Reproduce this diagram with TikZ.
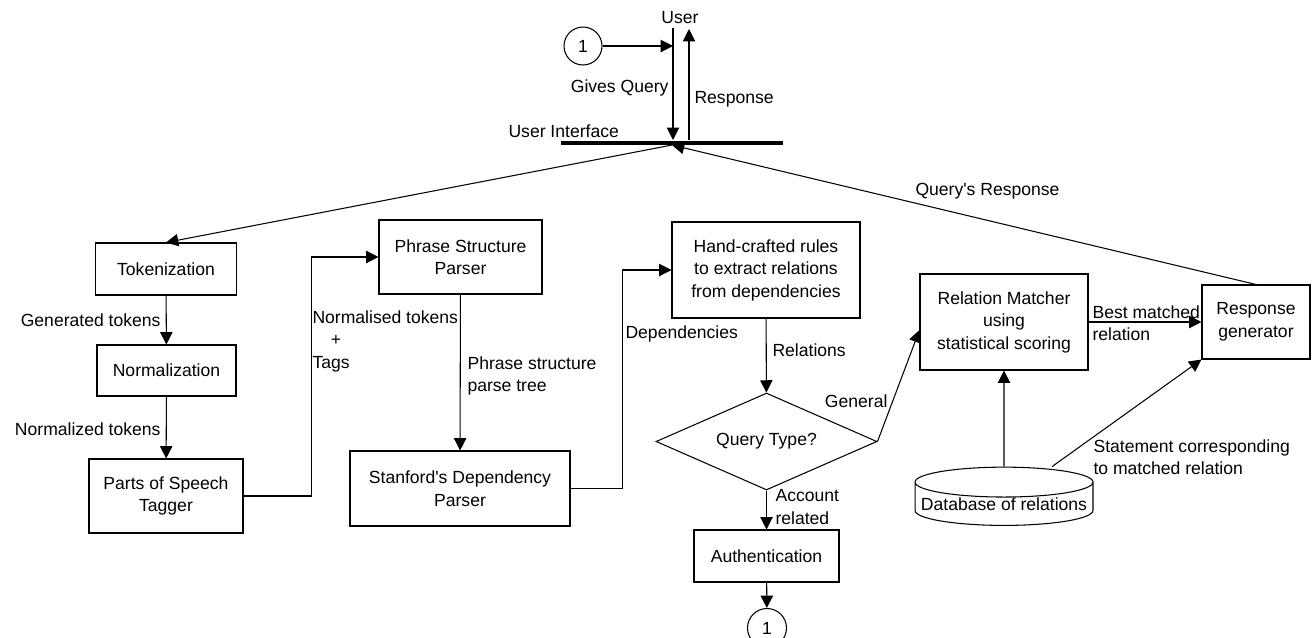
\documentclass[tikz,border=0pt]{standalone}
\usepackage{fontspec}
\setmainfont{Liberation Sans}
\usetikzlibrary{shapes.geometric,arrows.meta,calc}

\begin{document}
\begin{tikzpicture}[x=0.02cm, y=-0.02cm, line width=0.6pt,
    every node/.style={font=\fontsize{10}{12.8}\selectfont},
    box/.style={draw, align=center, inner sep=1pt},
    link/.style={-{Triangle[length=7pt,width=7pt]}},
    lbl/.style={inner sep=0pt, align=left}]
    \useasboundingbox (0,0) rectangle (1312,637);

    % user and interface
    \node[lbl] (user) at (680,18) {User};
    \node[draw, circle, minimum size=0.76cm, inner sep=0pt] (ctop) at (583,46) {1};
    \node[fill, minimum width=4.44cm, minimum height=0.08cm, inner sep=0pt] (ui) at (672,142.5) {};
    \node[lbl, anchor=west] (uilbl) at (508,131) {User Interface};
    \coordinate (gqtop) at (673,28);
    \coordinate (rstop) at (689,29);
    \draw[link] (gqtop) -- (gqtop |- ui.north);
    \draw[link] (rstop |- ui.north) -- (rstop);
    \draw[link] (ctop.east) -- (ctop.east -| gqtop);
    \node[lbl, anchor=east] (gqlbl) at (669,88) {Gives Query};
    \node[lbl, anchor=west] (rslbl) at (694,99) {Response};

    % pipeline boxes
    \node[box, minimum width=2.82cm, minimum height=1.04cm] (tok) at (166,269) {Tokenization};
    \node[box, minimum width=2.78cm, minimum height=1.02cm] (norm) at (166.5,370.5) {Normalization};
    \node[box, minimum width=3.08cm, minimum height=1.48cm] (pos) at (166,496) {Parts of Speech\\Tagger};
    \node[box, minimum width=3.26cm, minimum height=1.48cm] (psp) at (460.5,257) {Phrase Structure\\Parser};
    \node[box, minimum width=4.4cm, minimum height=1.5cm] (sdp) at (460,488.5) {Stanford\textquotesingle s Dependency\\Parser};
    \node[box, minimum width=3.76cm, minimum height=1.92cm] (hcr) at (766,270) {Hand-crafted rules\\to extract relations\\from dependencies};
    \node[draw, diamond, aspect=2.28, minimum width=4.42cm, minimum height=1.94cm, inner sep=0pt] (qtype) at (766.5,441.5) {Query Type?};
    \node[box, minimum width=2.9cm, minimum height=1.04cm] (auth) at (766.5,556) {Authentication};
    \node[draw, circle, minimum size=0.78cm, inner sep=0pt] (cbot) at (767,628) {1};
    \node[box, minimum width=3.36cm, minimum height=1.92cm] (rm) at (1004,322) {Relation Matcher\\using\\statistical scoring};
    \node[box, minimum width=2.16cm, minimum height=1.48cm] (rg) at (1256,322) {Response\\generator};
    \node[draw, cylinder, shape border rotate=90, aspect=0.18, minimum width=3.56cm, minimum height=0.7cm, inner sep=0pt] (db) at (1004,504) {Database of relations};

    % connectors
    \draw[link] (ui.south) -- (tok.north);
    \draw[link] (rg.north) -- (ui.south);
    \draw[link] (tok) -- (norm);
    \draw[link] (norm) -- (pos);
    \draw[link] (pos.east) -- ++(68,0) |- (psp.west);
    \draw[link] (psp) -- (sdp);
    \draw[link] (sdp.east) -- ++(52,0) |- (hcr.west);
    \draw[link] (hcr) -- (qtype);
    \draw[link] (qtype) -- (auth);
    \draw[link] (auth) -- (cbot);
    \draw[link] (qtype.east) -- ([yshift=-0.16cm]rm.west);
    \draw[link] (rm.east) -- (rg.west);
    \draw[link] (db.north) -- (rm.south);
    \draw[link] ([xshift=0.96cm]db.north) -- (rg.south west);

    % labels
    \node[lbl, anchor=west] (qrlbl) at (915,191) {Query\textquotesingle s Response};
    \node[lbl, anchor=east] (gtlbl) at (161,320) {Generated tokens};
    \node[lbl, anchor=east] (ntlbl) at (161,429) {Normalized tokens};
    \node[lbl, anchor=west] (nttag) at (312,341) {Normalised tokens\\\hspace*{10.5pt}+\\Tags};
    \node[lbl, anchor=west] (pslbl) at (467,376) {Phrase structure\\parse tree};
    \node[lbl, anchor=west] (deplbl) at (625,334) {Dependencies};
    \node[lbl, anchor=west] (rellbl) at (772,350) {Relations};
    \node[lbl, anchor=east] (genlbl) at (888,401) {General};
    \node[lbl, anchor=west] (acclbl) at (775,507) {Account\\related};
    \node[lbl, anchor=west] (bmlbl) at (1092,323) {Best matched\\relation};
    \node[lbl, anchor=west] (stlbl) at (1093,457) {Statement corresponding\\to matched relation};
\end{tikzpicture}
\end{document}
